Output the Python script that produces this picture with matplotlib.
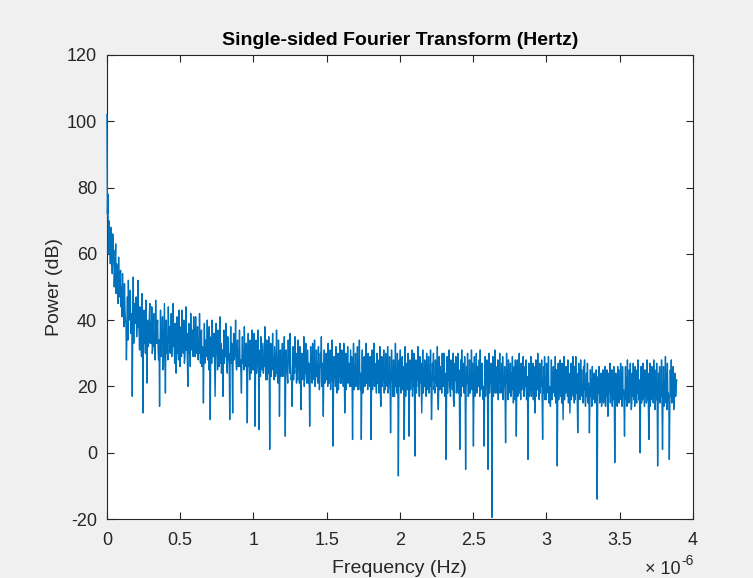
import matplotlib
matplotlib.use('Agg')
import matplotlib.pyplot as plt
from matplotlib.ticker import FuncFormatter
import numpy as np

plt.rcParams['font.family'] = ['Liberation Sans', 'DejaVu Sans']
plt.rcParams['axes.unicode_minus'] = False

# power spectrum, dB, one row per 0.1e-6 Hz
freq_max = 3.89e-6
power_db = [
    102, 72, 78, 60, 70, 66, 64, 57, 68, 62, 58, 54, 66, 59, 61, 50, 55, 58, 63, 48, 57, 53, 52, 45, 59, 49, 47, 52, 55, 44,
    50, 41, 54, 46, 44, 38, 51, 43, 40, 39, 28, 36, 47, 34, 52, 44, 42, 40, 49, 36, 37, 42, 17, 38, 53, 33, 45, 40, 39, 43,
    47, 35, 41, 38, 52, 40, 36, 31, 44, 37, 33, 29, 48, 34, 12, 39, 43, 33, 38, 30, 46, 36, 21, 34, 40, 32, 35, 41, 45, 33,
    39, 33, 44, 30, 31, 36, 42, 32, 36, 28, 46, 35, 33, 37, 40, 31, 28, 34, 14, 32, 43, 29, 37, 33, 41, 25, 26, 35, 45, 31,
    18, 34, 40, 30, 34, 28, 44, 33, 38, 31, 30, 35, 42, 29, 36, 32, 45, 33, 32, 27, 39, 34, 24, 31, 41, 30, 35, 28, 43, 32,
    26, 32, 38, 29, 43, 34, 33, 30, 40, 27, 29, 33, 44, 31, 36, 28, 20, 34, 39, 30, 34, 26, 42, 32, 31, 35, 37, 29, 41, 31,
    36, 29, 41, 31, 30, 34, 38, 28, 33, 30, 42, 32, 27, 33, 37, 26, 32, 29, 15, 31, 39, 27, 34, 30, 29, 33, 40, 28, 35, 25,
    38, 28, 10, 30, 35, 27, 40, 31, 29, 33, 36, 26, 17, 29, 39, 30, 31, 25, 37, 29, 26, 32, 41, 27, 33, 24, 28, 31, 17, 29,
    37, 27, 32, 29, 39, 30, 27, 24, 35, 28, 30, 26, 10, 30, 38, 27, 33, 25, 12, 29, 36, 28, 29, 31, 40, 27, 25, 30, 34, 26,
    31, 26, 37, 28, 28, 24, 18, 29, 35, 27, 30, 25, 38, 29, 26, 30, 33, 23, 9, 28, 36, 26, 29, 22, 34, 27, 24, 29, 37, 25,
    32, 25, 36, 28, 8, 27, 34, 24, 27, 29, 37, 26, 7, 28, 31, 23, 35, 27, 25, 29, 33, 24, 29, 26, 38, 28, 22, 25, 34, 22,
    30, 24, 35, 27, 1, 26, 33, 23, 26, 28, 36, 25, 29, 22, 32, 27, 23, 26, 37, 24, 28, 21, 34, 28, 11, 25, 31, 23, 27, 26,
    33, 23, 28, 26, 35, 22, 5, 27, 31, 25, 24, 21, 34, 27, 29, 24, 36, 26, 22, 23, 14, 25, 32, 22, 27, 24, 35, 26, 30, 21,
    26, 22, 34, 25, 29, 21, 32, 24, 13, 26, 30, 22, 23, 25, 35, 20, 28, 24, 33, 23, 21, 26, 31, 21, 27, 24, 8, 22, 32, 25,
    25, 21, 33, 24, 28, 22, 34, 20, 22, 25, 31, 23, 26, 21, 32, 24, 19, 22, 30, 26, 35, 20, 27, 23, 11, 25, 31, 21, 24, 24,
    30, 22, 27, 20, 33, 24, 21, 23, 31, 19, 26, 22, 34, 25, 2, 21, 29, 23, 24, 20, 32, 24, 18, 22, 30, 19, 28, 23, 33, 21,
    25, 21, 31, 23, 28, 20, 33, 24, 12, 22, 30, 19, 22, 24, 32, 21, 27, 23, 20, 25, 31, 20, 29, 22, 4, 24, 33, 19, 26, 22,
    30, 20, 23, 22, 32, 19, 28, 23, 34, 21, 19, 24, 4, 22, 31, 18, 26, 23, 29, 20, 21, 24, 33, 21, 27, 19, 30, 22, 24, 20,
    29, 21, 4, 23, 31, 19, 25, 22, 33, 20, 27, 24, 22, 18, 30, 21, 28, 23, 18, 22, 32, 19, 14, 23, 29, 20, 26, 22, 31, 18,
    24, 19, 30, 22, 27, 20, 32, 18, 20, 23, 29, 21, 6, 19, 31, 22, 26, 17, 28, 21, 17, 23, 33, 20, 25, 18, 30, 22, -7, 20,
    28, 20, 31, 18, 23, 21, 29, 19, 26, 22, 4, 20, 32, 17, 27, 21, 19, 23, 30, 18, 5, 21, 28, 19, 24, 22, 31, 17, 22, 20,
    30, 19, -1, 21, 28, 18, 25, 22, 32, 20, 21, 17, 29, 21, 27, 19, 12, 22, 31, 18, 24, 20, 28, 23, 18, 17, 30, 21, 26, 19,
    29, 18, 23, 20, 31, 21, 10, 17, 27, 22, 30, 19, 20, 18, 28, 21, 25, 20, 32, 17, 13, 22, 29, 19, 26, 21, 22, 18, 30, 20,
    27, 20, 30, 17, 24, 21, -2, 19, 29, 18, 26, 22, 31, 20, 19, 17, 28, 21, 23, 19, 30, 16, 14, 20, 27, 22, 29, 18, 21, 19,
    30, 18, 25, 21, 1, 19, 28, 17, 31, 20, 22, 22, 27, 18, 29, 20, -5, 19, 26, 21, 30, 17, 17, 20, 28, 18, 24, 21, 31, 19,
    27, 19, 2, 20, 29, 17, 24, 21, 30, 18, 26, 20, 20, 22, 28, 17, 31, 19, 23, 21, 27, 18, 16, 20, 2, 19, 29, 17, 25, 21,
    28, 17, -5, 20, 30, 18, 24, 21, 27, 19, -19.5, 20, 29, 17, 22, 21, 31, 18, 26, 20, 18, 19, 28, 16, 25, 21, 30, 18, 21, 20,
    27, 18, 29, 16, 23, 20, 26, 17, 3, 19, 30, 21, 25, 16, 28, 18, 19, 20, 27, 17, 24, 19, 29, 21, 15, 18, 26, 16, 28, 19,
    5, 19, 28, 17, 25, 20, 30, 18, 21, 16, 27, 19, 24, 21, 29, 17, 17, 19, 26, 20, 28, 16, 23, 18, -2, 20, 27, 17, 25, 19,
    29, 17, 22, 19, 27, 16, 26, 20, 12, 18, 28, 17, 24, 19, 30, 21, 20, 16, 27, 18, 25, 20, 28, 17, 4, 19, 26, 18, 29, 16,
    23, 16, 27, 18, 25, 19, 29, 15, 20, 17, 14, 19, 28, 16, 24, 18, 26, 20, 22, 17, 29, 15, 25, 19, -4, 17, 27, 16, 21, 18,
    28, 17, 25, 15, 27, 18, 10, 19, 29, 16, 23, 18, 26, 20, 21, 17, 28, 15, 24, 18, 12, 19, 27, 16, 25, 18, 29, 17, 22, 15,
    26, 16, 29, 18, 24, 17, 6, 15, 27, 19, 22, 16, 28, 18, 25, 17, 19, 15, 26, 19, 28, 16, 14, 18, 24, 17, 27, 15, 21, 18,
    6, 15, 25, 17, 22, 14, 26, 16, 19, 18, 24, 15, 21, 17, 25, 14, -14, 16, 23, 18, 26, 15, 18, 17, 24, 14, 22, 16, 25, 15,
    21, 16, 26, 14, 23, 17, 25, 15, 11, 16, 24, 18, 27, 15, 20, 17, 25, 14, 22, 16, 26, 18, -3, 15, 24, 17, 18, 14, 26, 16,
    25, 15, 22, 17, 27, 16, 24, 14, 26, 18, 19, 15, 5, 17, 26, 16, 23, 14, 28, 17, 21, 15, 25, 18, 27, 16, 13, 15, 24, 17,
    27, 16, 23, 14, 26, 17, 17, 15, 25, 18, 28, 16, 22, 14, 0, 17, 26, 15, 24, 16, 27, 18, 20, 14, 25, 17, 23, 15, 28, 16,
    24, 15, 4, 17, 27, 14, 22, 16, 26, 18, 19, 15, 28, 17, 25, 13, 21, 16, 27, 18, -4, 14, 24, 16, 26, 15, 20, 17, 28, 14,
    1, 16, 26, 14, 22, 17, 29, 15, 24, 13, 27, 16, 18, 15, -2, 14, 25, 17, 28, 15, 21, 16, 26, 13, 16, 18, 24, 17, 20, 22,
]
freq = np.linspace(0, freq_max, len(power_db))

x_ticks = [0, 0.5e-6, 1e-6, 1.5e-6, 2e-6, 2.5e-6, 3e-6, 3.5e-6, 4e-6]
y_ticks = [-20, 0, 20, 40, 60, 80, 100, 120]

dark = '#262626'

fig = plt.figure(figsize=(7.53, 5.78), dpi=100, facecolor='#f0f0f0')
ax = fig.add_axes([0.142, 0.102, 0.778, 0.803])
# drawn above the spines so the DC spike at f=0 stays visible
ax.plot(freq, power_db, color='#0072bd', lw=1.0, zorder=3, clip_on=False)

ax.set_xlim(0, 4e-6)
ax.set_ylim(-20, 120)
ax.set_xticks(x_ticks)
ax.set_yticks(y_ticks)
ax.xaxis.set_major_formatter(FuncFormatter(lambda v, p: f'{v * 1e6:g}'))

ax.tick_params(direction='in', top=True, right=True, length=5, width=0.8,
               colors=dark, labelsize=13)
ax.tick_params(axis='x', pad=9)
ax.tick_params(axis='y', pad=7)
for s in ax.spines.values():
    s.set_color(dark)
    s.set_linewidth(0.8)

ax.set_title('Single-sided Fourier Transform (Hertz)', fontsize=14,
             fontweight='bold', color='black', pad=7)
ax.set_xlabel('Frequency (Hz)', fontsize=14, color=dark, labelpad=8)
ax.set_ylabel('Power (dB)', fontsize=14, color=dark, labelpad=3)

# x10^-6 exponent under the right end of the x axis
fig.text(681 / 753, 1 - 574 / 578, '\u00d7 10', ha='right', va='baseline',
         fontsize=13, color=dark)
fig.text(681 / 753, 1 - 565 / 578, '-6', ha='left', va='baseline',
         fontsize=10, color=dark)

fig.savefig('out.png', dpi=100, facecolor=fig.get_facecolor())
